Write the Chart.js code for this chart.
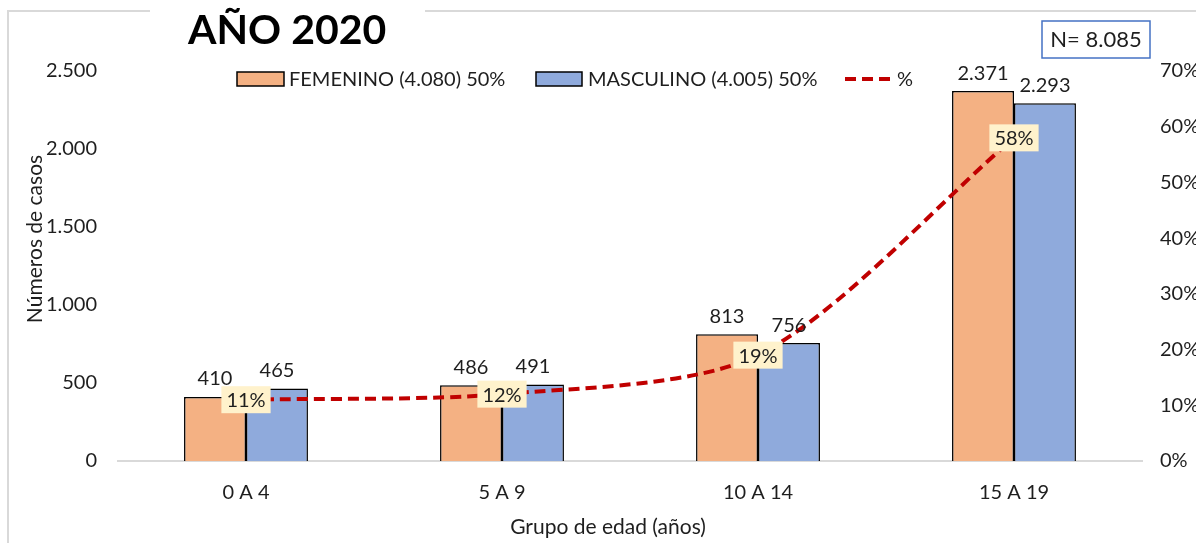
<!DOCTYPE html>
<html><head><meta charset="utf-8">
<script src="https://cdn.jsdelivr.net/npm/chart.js@4.4.1/dist/chart.umd.min.js"></script>
<style>
html,body{margin:0;padding:0;overflow:hidden;background:#fff;width:1196px;height:543px}
#wrap{position:absolute;left:0;top:0;width:1220px;height:543px}
</style>
</head><body><div id="wrap"><canvas id="c" width="1220" height="543"></canvas></div>
<script>
const categories = ['0 A 4', '5 A 9', '10 A 14', '15 A 19'];
const femenino = [410, 486, 813, 2371];
const masculino = [465, 491, 756, 2293];
const porcentaje = [11, 12, 19, 58];
const leftTicks = [0, 500, 1000, 1500, 2000, 2500];
const rightTicks = [0, 10, 20, 30, 40, 50, 60, 70];
const legendLabels = ['FEMENINO (4.080) 50%', 'MASCULINO (4.005) 50%', '%'];
const titleText = 'AÑO 2020';
const nText = 'N= 8.085';
const xTitle = 'Grupo de edad (años)';
const yTitle = 'Números de casos';

const FONT = 'Lato';
const TXT = '#1e1e1e';
const ORANGE = '#F4B183';
const BLUE = '#8FAADC';
const RED = '#C00000';
const fmt = v => String(v).replace(/\B(?=(\d{3})+(?!\d))/g, '.');

const decor = {
  id: 'decor',
  afterDatasetsDraw(chart) {
    const ctx = chart.ctx;
    ctx.save();
    ctx.font = '20px ' + FONT;
    ctx.fillStyle = TXT;
    ctx.textAlign = 'center';
    ctx.textBaseline = 'middle';
    [1, 2].forEach(di => {
      const meta = chart.getDatasetMeta(di);
      const data = chart.data.datasets[di].data;
      meta.data.forEach((el, i) => {
        ctx.fillText(fmt(data[i]), el.x, el.y - 18);
      });
    });
    const lm = chart.getDatasetMeta(0);
    lm.data.forEach((el, i) => {
      const t = porcentaje[i] + '%';
      const w = ctx.measureText(t).width + 10;
      const h = 27;
      ctx.fillStyle = '#FFF2CC';
      ctx.fillRect(el.x - w / 2, el.y - h / 2, w, h);
      ctx.fillStyle = TXT;
      ctx.fillText(t, el.x, el.y + 1);
    });
    ctx.restore();
  },
  afterDraw(chart) {
    const ctx = chart.ctx;
    ctx.save();
    // frame
    ctx.strokeStyle = '#D9D9D9';
    ctx.lineWidth = 2;
    ctx.beginPath();
    ctx.moveTo(8, 543); ctx.lineTo(8, 11); ctx.lineTo(1220, 11);
    ctx.stroke();
    // title
    ctx.fillStyle = '#fff';
    ctx.fillRect(150, 0, 275, 24);
    ctx.fillStyle = '#000';
    ctx.font = 'bold 41px ' + FONT;
    ctx.textAlign = 'left';
    ctx.textBaseline = 'alphabetic';
    ctx.fillText(titleText, 188, 44);
    // N box
    ctx.fillStyle = '#fff';
    ctx.fillRect(1042, 21, 108, 37);
    ctx.strokeStyle = '#4472C4';
    ctx.lineWidth = 1.5;
    ctx.strokeRect(1042, 21, 108, 37);
    ctx.fillStyle = TXT;
    ctx.font = '22px ' + FONT;
    ctx.textAlign = 'center';
    ctx.textBaseline = 'middle';
    ctx.fillText(nText, 1096, 40);
    // legend
    const ly = 79;
    ctx.font = '20px ' + FONT;
    ctx.textAlign = 'left';
    ctx.lineWidth = 1.5;
    ctx.strokeStyle = '#000';
    ctx.fillStyle = ORANGE;
    ctx.fillRect(237, ly - 7, 47, 14); ctx.strokeRect(237, ly - 7, 47, 14);
    ctx.fillStyle = TXT;
    ctx.fillText(legendLabels[0], 289, ly + 1);
    ctx.fillStyle = BLUE;
    ctx.fillRect(536, ly - 7, 46, 14); ctx.strokeRect(536, ly - 7, 46, 14);
    ctx.fillStyle = TXT;
    ctx.fillText(legendLabels[1], 588, ly + 1);
    ctx.strokeStyle = RED;
    ctx.lineWidth = 4;
    ctx.setLineDash([11, 6]);
    ctx.beginPath(); ctx.moveTo(845, ly); ctx.lineTo(890, ly); ctx.stroke();
    ctx.setLineDash([]);
    ctx.fillText(legendLabels[2], 897, ly + 1);
    // x title
    ctx.textAlign = 'center';
    ctx.font = '21px ' + FONT;
    ctx.fillText(xTitle, 608, 527);
    // y title
    ctx.translate(35, 239);
    ctx.rotate(-Math.PI / 2);
    ctx.fillText(yTitle, 0, 0);
    ctx.restore();
  }
};

new Chart(document.getElementById('c'), {
  data: {
    labels: categories,
    datasets: [
      { type: 'line', label: legendLabels[2], data: porcentaje, yAxisID: 'y1',
        borderColor: RED, borderWidth: 4, borderDash: [11, 6], tension: 0.28,
        pointRadius: 0, fill: false, order: 0 },
      { type: 'bar', label: legendLabels[0], data: femenino, yAxisID: 'y',
        backgroundColor: ORANGE, borderColor: '#000', borderWidth: 1.5, order: 1,
        categoryPercentage: 0.484, barPercentage: 1 },
      { type: 'bar', label: legendLabels[1], data: masculino, yAxisID: 'y',
        backgroundColor: BLUE, borderColor: '#000', borderWidth: 1.5, order: 1,
        categoryPercentage: 0.484, barPercentage: 1 }
    ]
  },
  options: {
    responsive: false,
    animation: false,
    devicePixelRatio: 1,
    layout: { padding: { top: 71, left: 0, right: 0, bottom: 0 } },
    plugins: { legend: { display: false }, tooltip: { enabled: false }, title: { display: false } },
    scales: {
      x: {
        offset: true,
        grid: { display: false, drawTicks: false },
        border: { display: true, color: '#D9D9D9', width: 2 },
        ticks: { font: { family: FONT, size: 20 }, color: TXT, padding: 20 },
        title: { display: false, text: xTitle },
        afterFit(s) { s.height = 82; }
      },
      y: {
        position: 'left', min: 0, max: 2500,
        afterBuildTicks(s) { s.ticks = leftTicks.map(v => ({ value: v })); },
        grid: { display: false, drawTicks: false },
        border: { display: false },
        ticks: { font: { family: FONT, size: 20 }, color: TXT, padding: 21, callback: v => fmt(v) },
        afterFit(s) { s.width = 118; }
      },
      y1: {
        position: 'right', min: 0, max: 70,
        afterBuildTicks(s) { s.ticks = rightTicks.map(v => ({ value: v })); },
        grid: { display: false, drawTicks: false },
        border: { display: false },
        ticks: { font: { family: FONT, size: 20 }, color: TXT, padding: 18, callback: v => v + '%' },
        afterFit(s) { s.width = 78; }
      }
    }
  },
  plugins: [decor]
});
</script>
</body></html>
